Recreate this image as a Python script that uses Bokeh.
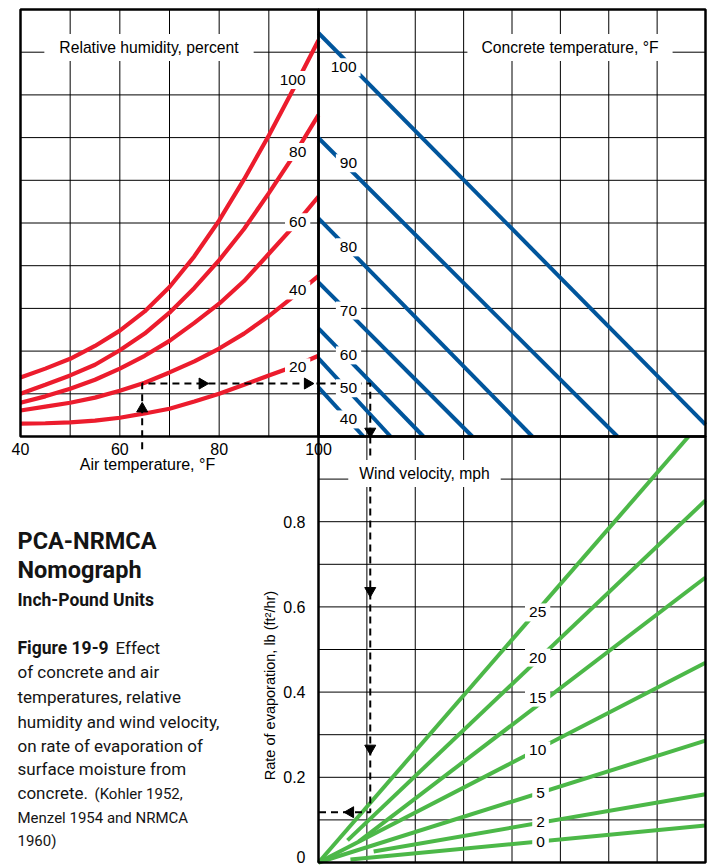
from bokeh.plotting import figure
from bokeh.models import Range1d, LinearAxis, FixedTicker
from bokeh.core.properties import value
from bokeh.embed import file_html
from bokeh.resources import INLINE

# ------------------------------------------------------------------
# Data read from the nomograph
# ------------------------------------------------------------------
# Top-left panel: air temperature (deg F) vs vapour-pressure grid units (0..10)
air_temp = [40, 45, 50, 55, 60, 65, 70, 75, 80, 85, 90, 95, 100]
rh_levels = [100, 80, 60, 40, 20]
rh_100 = [1.38, 1.59, 1.82, 2.12, 2.48, 2.93, 3.50, 4.22, 5.06, 6.02, 7.05, 8.15, 9.28]
rh_80 = [1.00, 1.21, 1.43, 1.68, 2.02, 2.41, 2.90, 3.48, 4.13, 4.86, 5.70, 6.58, 7.53]
rh_60 = [0.79, 0.94, 1.12, 1.33, 1.59, 1.89, 2.24, 2.66, 3.11, 3.64, 4.28, 4.92, 5.62]
rh_40 = [0.61, 0.70, 0.79, 0.91, 1.07, 1.26, 1.50, 1.76, 2.06, 2.41, 2.82, 3.28, 3.76]
rh_20 = [0.30, 0.31, 0.33, 0.37, 0.44, 0.54, 0.65, 0.82, 1.00, 1.21, 1.43, 1.64, 1.89]
rh_curves = [rh_100, rh_80, rh_60, rh_40, rh_20]

# Top-right panel: concrete temperature lines (grid units)
concrete_temp = [100, 90, 80, 70, 60, 50, 40]
conc_start_x = [0, 0, 0, 0, 0, 0, 0]
conc_start_vp = [9.45, 6.99, 5.11, 3.61, 2.53, 1.83, 1.15]
conc_end_x = [8.0, 6.18, 4.42, 3.18, 2.17, 1.49, 0.93]
conc_end_vp = [0.28, 0, 0, 0, 0, 0, 0]

# Bottom-right panel: wind velocity lines, rate of evaporation lb/(ft2 hr)
wind_mph = [25, 20, 15, 10, 5, 2, 0]
wind_start_x = [0, 0.60, 0.83, 0, 0, 1.14, 0.66]
wind_start_rate = [0, 0.052, 0.049, 0, 0, 0.026, 0.007]
wind_end_x = [7.65, 8, 8, 8, 8, 8, 8]
wind_end_rate = [1.0, 0.850, 0.669, 0.469, 0.286, 0.160, 0.087]

# Axis ticks
air_ticks = [40, 60, 80, 100]
rate_ticks = [0.2, 0.4, 0.6, 0.8]
rate_origin_label = "0"

# Worked example (dashed path)
example_air = 64.5
example_vp = 1.24
example_x = 1.07
example_rate = 0.118

# ------------------------------------------------------------------
# Layout (canvas pixels) and ranges
# ------------------------------------------------------------------
W, H = 710, 866
PX_L, PX_M, PX_R = 20.0, 318.0, 705.0
PY_T, PY_M, PY_B = 9.0, 436.0, 862.0

xg_pp = 8 / (PX_R - PX_M)
air_pp = 60 / (PX_M - PX_L)
e_pp = 1 / (PY_B - PY_M)
v_pp = 10 / (PY_M - PY_T)

x_range = Range1d(-PX_M * xg_pp, (W - PX_M) * xg_pp)
air_range = Range1d(40 - PX_L * air_pp, 40 + (W - PX_L) * air_pp)
y_range = Range1d(-(H - PY_B) * e_pp, PY_B * e_pp)
vap_range = Range1d(-(H - PY_M) * v_pp, 10 + PY_T * v_pp)


def tx(px):  # canvas px -> x grid units
    return (px - PX_M) * xg_pp


def ty(py):  # canvas px -> rate units
    return (PY_B - py) * e_pp


def tair(px):
    return 40 + (px - PX_L) * air_pp


def tvap(py):
    return (PY_M - py) * v_pp


RED, BLUE, GREEN = "#EC1C2D", "#00559C", "#4CB848"
LAB = "Liberation Sans"
LAB_FONT = value(LAB)
TXT_FONT = value("Roboto")

p = figure(width=W, height=H, x_range=x_range, y_range=y_range,
           x_axis_type=None, y_axis_type=None, output_backend="svg",
           toolbar_location=None, min_border=0, outline_line_color=None,
           background_fill_color="white", border_fill_color="white")
p.extra_x_ranges = {"air": air_range}
p.extra_y_ranges = {"vap": vap_range}

# ---------------- grid ----------------
GRID = dict(line_color="#000000", line_width=1.0)
inner_air = [t for t in range(50, 100, 10)]
levels = list(range(1, 10))
p.segment(x0=inner_air, y0=0, x1=inner_air, y1=10, x_range_name="air", y_range_name="vap", **GRID)
p.segment(x0=40, y0=levels, x1=100, y1=levels, x_range_name="air", y_range_name="vap", **GRID)
cols = list(range(1, 8))
p.segment(x0=cols, y0=0, x1=cols, y1=10, y_range_name="vap", **GRID)
p.segment(x0=0, y0=levels, x1=8, y1=levels, y_range_name="vap", **GRID)
p.segment(x0=cols, y0=0, x1=cols, y1=1, **GRID)
rate_levels = [i / 10 for i in range(1, 10)]
p.segment(x0=0, y0=rate_levels, x1=8, y1=rate_levels, **GRID)

# ---------------- curves ----------------
for vals in rh_curves:
    p.line(air_temp, vals, x_range_name="air", y_range_name="vap",
           line_color=RED, line_width=4.2)
p.segment(x0=conc_start_x, y0=conc_start_vp, x1=conc_end_x, y1=conc_end_vp,
          y_range_name="vap", line_color=BLUE, line_width=4)
p.segment(x0=wind_start_x, y0=wind_start_rate, x1=wind_end_x, y1=wind_end_rate,
          line_color=GREEN, line_width=4)

# ---------------- dashed example ----------------
DASH = dict(line_color="black", line_width=2, line_dash="7 5")
p.line([example_air, example_air, 100], [-0.3, example_vp, example_vp],
       x_range_name="air", y_range_name="vap", **DASH)
p.line([0, example_x, example_x], [example_vp, example_vp, 0], y_range_name="vap", **DASH)
p.line([example_x, example_x, 0], [1.0, example_rate, example_rate], **DASH)

AR = dict(marker="triangle", size=11, fill_color="black", line_color="black")
p.scatter([example_air, 76.6, 97.8], [0.65, example_vp, example_vp],
          angle=[0, -1.5708, -1.5708], x_range_name="air", y_range_name="vap", **AR)
p.scatter([example_x], [0.12], angle=[3.1416], y_range_name="vap", **AR)
p.scatter([example_x, example_x, 0.66], [0.638, 0.268, example_rate],
          angle=[3.1416, 3.1416, 1.5708], **AR)

# ---------------- frames ----------------
FR = dict(fill_color=None, line_color="black", line_width=2.5)
p.quad(left=[40], right=[100], bottom=[0], top=[10], x_range_name="air", y_range_name="vap", **FR)
p.quad(left=[0], right=[8], bottom=[0], top=[10], y_range_name="vap", **FR)
p.quad(left=[0], right=[8], bottom=[0], top=[1], **FR)

# ---------------- curve labels ----------------
LBL = dict(text_font=LAB_FONT, text_font_size="15.5px", text_color="black",
           text_align="center", text_baseline="middle",
           background_fill_color="white", padding=4)
p.text(x=[94.8, 95.8, 95.8, 95.8, 95.8], y=[8.35, 6.66, 5.02, 3.42, 1.62],
       text=[str(r) for r in rh_levels], x_range_name="air", y_range_name="vap", **LBL)
p.text(x=[0.52, 0.62, 0.62, 0.62, 0.62, 0.62, 0.62],
       y=[8.65, 6.40, 4.43, 2.95, 1.90, 1.13, 0.40],
       text=[str(c) for c in concrete_temp], y_range_name="vap", **LBL)
p.text(x=[4.53, 4.53, 4.53, 4.53, 4.59, 4.59, 4.59],
       y=[0.587, 0.481, 0.387, 0.263, 0.162, 0.094, 0.047],
       text=[str(w) for w in wind_mph], **LBL)

# ---------------- panel titles ----------------
TTL = dict(text_font=LAB_FONT, text_font_size="15.7px", text_color="black",
           text_align="center", text_baseline="middle", background_fill_color="white")
p.text(x=[tair(148.5)], y=[tvap(47)], text=["Relative humidity, percent"],
       x_range_name="air", y_range_name="vap",
       padding=dict(left=15, right=15, top=5, bottom=5), **TTL)
p.text(x=[tx(569.5)], y=[tvap(47)], text=["Concrete temperature, °F"],
       y_range_name="vap", padding=dict(left=14, right=14, top=5, bottom=5), **TTL)
p.text(x=[tx(424)], y=[ty(473)], text=["Wind velocity, mph"],
       padding=dict(left=11, right=11, top=5, bottom=5), **TTL)
p.text(x=[tair(147)], y=[tvap(464)], text=["Air temperature, °F"],
       x_range_name="air", y_range_name="vap", text_font=LAB_FONT, text_color="black",
       text_font_size="16px", text_align="center", text_baseline="alphabetic")

# ---------------- axes ----------------
AX = dict(axis_line_color=None, major_tick_line_color=None, minor_tick_line_color=None,
          major_label_text_font=LAB, major_label_text_font_size="16px",
          major_label_text_color="black",
          axis_label_text_font=LAB, axis_label_text_font_size="14.5px",
          axis_label_text_color="black", axis_label_text_font_style="normal")
air_axis = LinearAxis(x_range_name="air", fixed_location=1.0, bounds=(40, 100),
                      ticker=FixedTicker(ticks=air_ticks), major_label_standoff=0, **AX)
p.add_layout(air_axis, "below")
rate_axis = LinearAxis(fixed_location=0, bounds=(0, 0.83),
                       ticker=FixedTicker(ticks=rate_ticks),
                       axis_label="Rate of evaporation, lb (ft²/hr)",
                       major_label_standoff=7, axis_label_standoff=2, **AX)
p.add_layout(rate_axis, "left")
# origin label of the rate axis, lifted so it stays inside the page
p.text(x=[0], y=[0], text=[rate_origin_label], x_offset=-13, text_font=LAB_FONT,
       text_color="black", text_font_size="16px", text_align="right",
       text_baseline="bottom")

# ---------------- caption block ----------------
caption = [
    ("PCA-NRMCA", 17, 549, 23.5, "bold"),
    ("Nomograph", 17, 578, 23.5, "bold"),
    ("Inch-Pound Units", 17, 606, 17.5, "bold"),
    ("Figure 19-9", 17, 654, 17.5, "bold"),
    ("Effect", 115, 654, 17, "normal"),
    ("of concrete and air", 17, 678, 17, "normal"),
    ("temperatures, relative", 17, 703, 17, "normal"),
    ("humidity and wind velocity,", 17, 728, 17, "normal"),
    ("on rate of evaporation of", 17, 752, 17, "normal"),
    ("surface moisture from", 17, 775, 17, "normal"),
    ("concrete.", 17, 799, 17, "normal"),
    ("(Kohler 1952,", 94, 799, 15, "normal"),
    ("Menzel 1954 and NRMCA", 17, 823, 15, "normal"),
    ("1960)", 17, 846, 15, "normal"),
]
for txt, px, py, fs, st in caption:
    p.text(x=[tx(px)], y=[ty(py - 0.38 * fs)], text=[txt], text_font=TXT_FONT,
           text_font_size=f"{fs}px", text_font_style=st, text_color="#141414",
           text_align="left", text_baseline="alphabetic")

open("out.html", "w").write(file_html(p, INLINE, title="PCA-NRMCA Nomograph"))
